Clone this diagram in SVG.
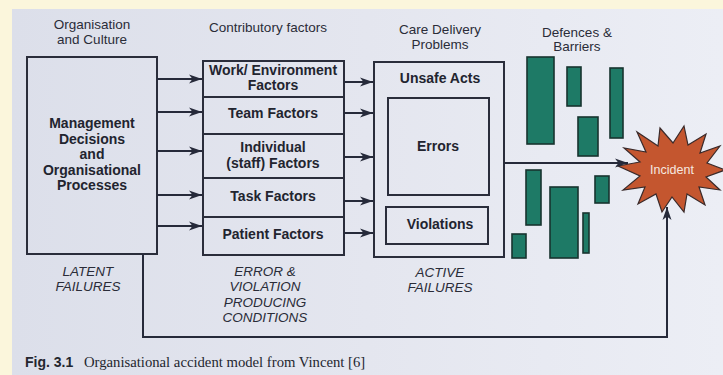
<svg xmlns="http://www.w3.org/2000/svg" width="723" height="375" viewBox="0 0 723 375">
  <defs>
    <linearGradient id="page" x1="0" y1="0" x2="1" y2="0">
      <stop offset="0" stop-color="#dcdfea"/>
      <stop offset="0.5" stop-color="#e4e6ef"/>
      <stop offset="1" stop-color="#eceef5"/>
    </linearGradient>
    <marker id="arrow" markerUnits="userSpaceOnUse" markerWidth="14" markerHeight="10" refX="13" refY="5" orient="auto">
      <path d="M0,0.5 L13,5 L0,9.5 L3.5,5 z" fill="#262a3a"/>
    </marker>
    <style>
      .box { fill: none; stroke: #2a2d3b; stroke-width: 2; }
      .line { fill: none; stroke: #262a3a; stroke-width: 2; }
      .bar { fill: #1e7a66; stroke: #17342f; stroke-width: 1.6; }
      .head { font-family: "Liberation Sans", Arial, sans-serif; font-size: 13.5px; fill: #2a2c38; text-anchor: middle; }
      .bold { font-family: "Liberation Sans", Arial, sans-serif; font-size: 14px; font-weight: bold; fill: #22242f; text-anchor: middle; }
      .ital { font-family: "Liberation Sans", Arial, sans-serif; font-size: 13.5px; font-style: italic; fill: #2a2c38; text-anchor: middle; }
      .cap { font-family: "Liberation Serif", "Times New Roman", serif; font-size: 14.7px; fill: #24262f; }
      .capb { font-family: "Liberation Sans", Arial, sans-serif; font-size: 14px; font-weight: bold; fill: #24262f; }
    </style>
  </defs>

  <!-- page -->
  <rect x="0" y="0" width="723" height="375" fill="#fbf6dc"/>
  <rect x="12" y="9" width="711" height="366" fill="url(#page)"/>

  <!-- column headings -->
  <text class="head" x="92" y="29">Organisation</text>
  <text class="head" x="92" y="44">and Culture</text>
  <text class="head" x="268" y="32">Contributory factors</text>
  <text class="head" x="440" y="34">Care Delivery</text>
  <text class="head" x="440" y="49">Problems</text>
  <text class="head" x="577" y="37">Defences &amp;</text>
  <text class="head" x="577" y="51">Barriers</text>

  <!-- organisation node -->
  <g id="organisation">
    <rect class="box" x="27" y="57" width="130" height="197"/>
    <text class="bold" x="92" y="128">Management</text>
    <text class="bold" x="92" y="143.5">Decisions</text>
    <text class="bold" x="92" y="159">and</text>
    <text class="bold" x="92" y="174.5">Organisational</text>
    <text class="bold" x="92" y="190">Processes</text>
  </g>

  <!-- contributory factors -->
  <g id="contributory">
    <rect class="box" x="203" y="61" width="141" height="194"/>
    <line class="box" x1="203" y1="97" x2="344" y2="97"/>
    <line class="box" x1="203" y1="134" x2="344" y2="134"/>
    <line class="box" x1="203" y1="178" x2="344" y2="178"/>
    <line class="box" x1="203" y1="217" x2="344" y2="217"/>
  </g>
  <g id="work-environment">
    <text class="bold" x="273" y="75">Work/ Environment</text>
    <text class="bold" x="273" y="90">Factors</text>
  </g>
  <g id="team">
    <text class="bold" x="273" y="118">Team Factors</text>
  </g>
  <g id="individual">
    <text class="bold" x="273" y="152">Individual</text>
    <text class="bold" x="273" y="168">(staff) Factors</text>
  </g>
  <g id="task">
    <text class="bold" x="273" y="201">Task Factors</text>
  </g>
  <g id="patient">
    <text class="bold" x="273" y="239">Patient Factors</text>
  </g>

  <!-- care delivery problems -->
  <g id="unsafe-acts">
    <rect class="box" x="374" y="62" width="130" height="195"/>
    <text class="bold" x="440" y="83">Unsafe Acts</text>
  </g>
  <g id="errors">
    <rect class="box" x="388" y="98" width="101" height="97"/>
    <text class="bold" x="438" y="151">Errors</text>
  </g>
  <g id="violations">
    <rect class="box" x="386" y="207" width="102" height="37"/>
    <text class="bold" x="440" y="229">Violations</text>
  </g>

  <!-- defences and barriers -->
  <g id="barriers">
    <rect class="bar" x="527" y="57" width="27" height="87"/>
    <rect class="bar" x="567" y="67" width="14" height="39"/>
    <rect class="bar" x="578" y="117" width="20" height="39"/>
    <rect class="bar" x="610" y="68" width="13" height="70"/>
    <rect class="bar" x="526" y="170" width="15" height="55"/>
    <rect class="bar" x="550" y="187" width="28" height="71"/>
    <rect class="bar" x="583" y="213" width="6" height="40"/>
    <rect class="bar" x="595" y="176" width="14" height="27"/>
    <rect class="bar" x="512" y="234" width="14" height="24"/>
  </g>

  <!-- incident -->
  <g id="incident">
    <polygon fill="#c4562f" stroke="#3a2a2a" stroke-width="1.2"
      points="618,166 640,162 624,148 646,152 637,132 658,146 660,128 673,143 684,126 688,145 706,134 700,153 720,146 707,163 725,170 706,177 720,190 699,187 705,205 687,194 684,212 672,197 662,212 656,194 638,204 645,187 623,190 640,176"/>
    <text x="672" y="174" font-family="Liberation Sans, Arial, sans-serif" font-size="12.5" fill="#f6e8e0" text-anchor="middle">Incident</text>
  </g>

  <!-- italic captions under columns -->
  <text class="ital" x="88" y="276">LATENT</text>
  <text class="ital" x="88" y="291">FAILURES</text>
  <text class="ital" x="265" y="276">ERROR &amp;</text>
  <text class="ital" x="265" y="291">VIOLATION</text>
  <text class="ital" x="265" y="307">PRODUCING</text>
  <text class="ital" x="265" y="322">CONDITIONS</text>
  <text class="ital" x="440" y="277">ACTIVE</text>
  <text class="ital" x="440" y="292">FAILURES</text>

  <!-- connectors -->
  <g id="connectors">
    <line class="line" x1="157" y1="79" x2="202" y2="79" marker-end="url(#arrow)"/>
    <line class="line" x1="157" y1="112" x2="202" y2="112" marker-end="url(#arrow)"/>
    <line class="line" x1="157" y1="151" x2="202" y2="151" marker-end="url(#arrow)"/>
    <line class="line" x1="157" y1="195" x2="202" y2="195" marker-end="url(#arrow)"/>
    <line class="line" x1="157" y1="226" x2="202" y2="226" marker-end="url(#arrow)"/>
    <line class="line" x1="344" y1="82" x2="373" y2="82" marker-end="url(#arrow)"/>
    <line class="line" x1="344" y1="113" x2="373" y2="113" marker-end="url(#arrow)"/>
    <line class="line" x1="344" y1="157" x2="373" y2="157" marker-end="url(#arrow)"/>
    <line class="line" x1="344" y1="201" x2="373" y2="201" marker-end="url(#arrow)"/>
    <line class="line" x1="344" y1="233" x2="373" y2="233" marker-end="url(#arrow)"/>
    <line class="line" x1="504" y1="163" x2="628" y2="163" marker-end="url(#arrow)"/>
    <polyline class="line" points="143,254 143,337 667,337 667,207" marker-end="url(#arrow)"/>
  </g>

  <!-- figure caption -->
  <text class="capb" x="25" y="367">Fig. 3.1</text>
  <text class="cap" x="84" y="367">Organisational accident model from Vincent [6]</text>
</svg>
